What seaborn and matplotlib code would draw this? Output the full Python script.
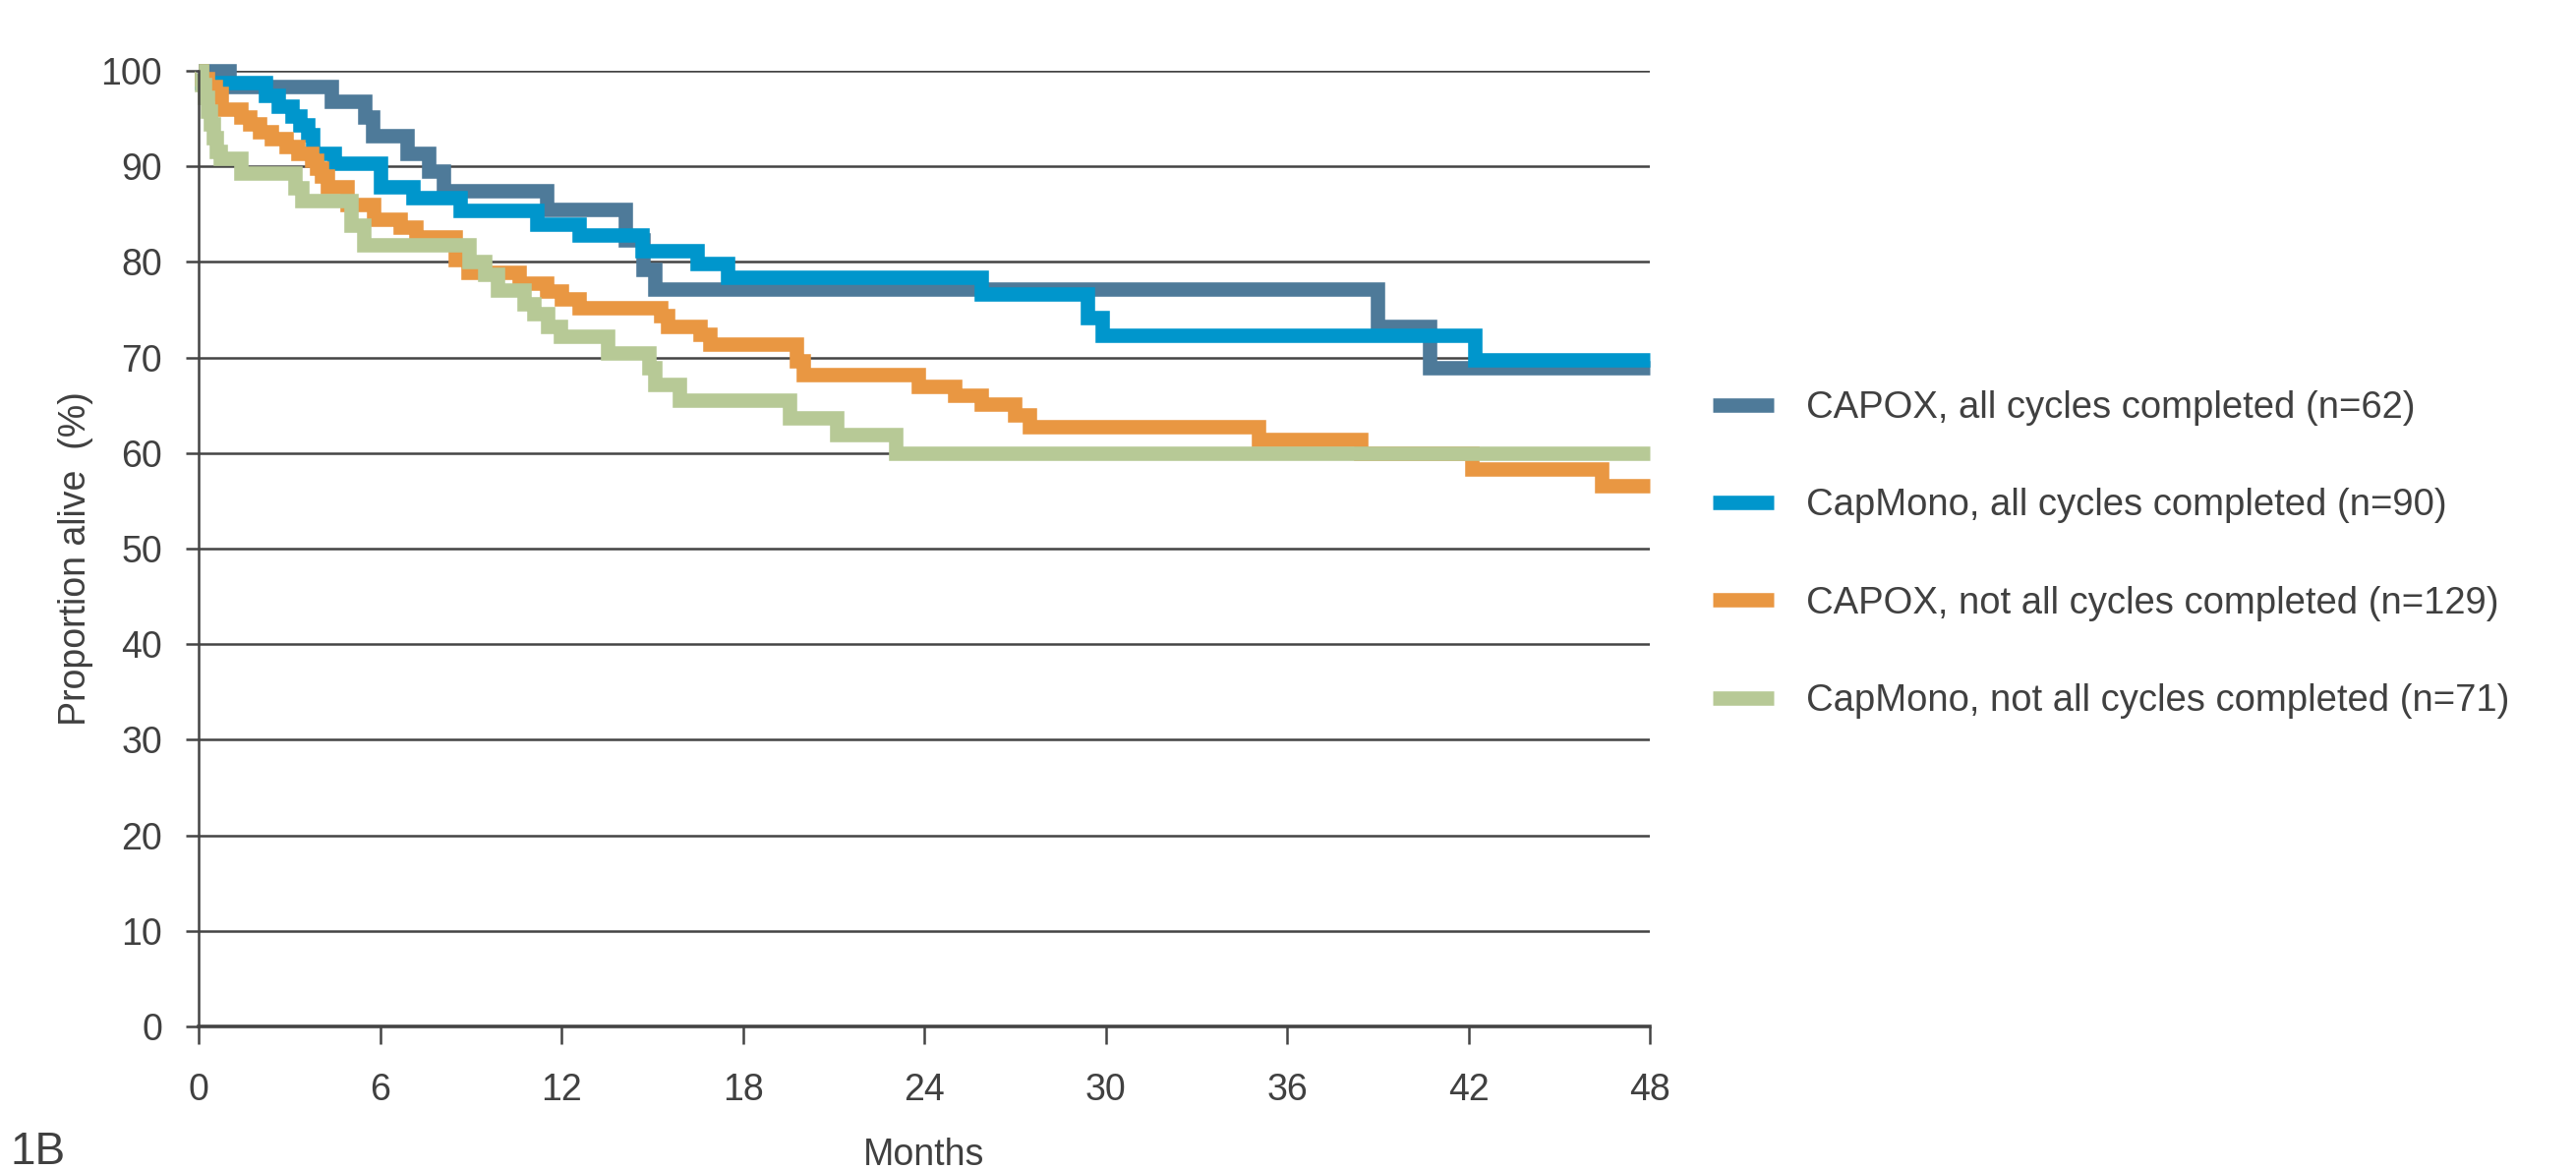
import pandas as pd
import seaborn as sns
import matplotlib.pyplot as plt

# Kaplan-Meier style survival curves
# each series: months where a step happens, and the proportion alive from that point on

capox_all_t = [0, 1.0, 4.4, 5.5, 5.75, 6.9, 7.6, 8.1, 11.5, 14.1, 14.7, 15.1, 39.0, 40.7, 48]
capox_all_v = [100, 98.4, 96.8, 95.2, 93.2, 91.4, 89.5, 87.4, 85.5, 82.3, 79.2, 77.2, 73.2, 68.9, 68.9]

capmono_all_t = [0, 0.1, 2.2, 2.64, 3.08, 3.35, 3.62, 3.78, 4.49, 6.0, 7.09, 8.66, 11.2, 12.6,
                 14.68, 16.5, 17.5, 25.9, 29.4, 29.9, 42.2, 48]
capmono_all_v = [100, 98.8, 97.4, 96.3, 95.3, 94.3, 93.3, 91.4, 90.3, 87.9, 86.7, 85.4, 84.0, 82.8,
                 81.2, 79.8, 78.4, 76.6, 74.2, 72.3, 69.8, 69.8]

capox_not_t = [0, 0.1, 0.3, 0.55, 0.75, 1.4, 1.7, 2.0, 2.4, 2.9, 3.3, 3.75, 3.9, 4.05, 4.27, 4.92,
               5.79, 6.66, 7.2, 8.5, 8.9, 10.6, 11.5, 12.0, 12.6, 15.27, 15.5, 16.6, 16.9, 19.77,
               20.0, 23.8, 25.0, 25.9, 27.0, 27.47, 35.06, 38.42, 42.1, 46.4, 48]
capox_not_v = [100, 99.2, 98.4, 97.6, 96.0, 95.2, 94.4, 93.6, 92.9, 92.1, 91.4, 90.6, 89.8, 89.0,
               87.9, 86.0, 84.5, 83.6, 82.6, 80.2, 78.9, 77.8, 77.0, 76.1, 75.2, 74.4, 73.3, 72.4,
               71.4, 69.7, 68.2, 67.0, 66.0, 65.1, 64.0, 62.8, 61.4, 60.0, 58.3, 56.6, 56.6]

capmono_not_t = [0, 0.1, 0.2, 0.3, 0.4, 0.5, 0.6, 0.7, 1.4, 3.19, 3.4, 5.03, 5.46, 8.93, 9.47, 9.9,
                 10.77, 11.1, 11.53, 11.97, 13.53, 14.9, 15.1, 15.9, 19.55, 21.1, 23.07, 48]
capmono_not_v = [100, 98.6, 97.2, 95.8, 94.4, 93.0, 91.6, 90.8, 89.3, 87.8, 86.4, 83.8, 81.8, 80.0,
                 78.7, 77.1, 75.6, 74.6, 73.2, 72.2, 70.5, 68.9, 67.2, 65.5, 63.7, 61.9, 60.0, 60.0]

groups = ['CAPOX, all cycles completed (n=62)',
          'CapMono, all cycles completed (n=90)',
          'CAPOX, not all cycles completed (n=129)',
          'CapMono, not all cycles completed (n=71)']
colors = ['#4E7A99', '#0096CC', '#E99742', '#B7C996']

frames = []
for g, t, v in zip(groups,
                   [capox_all_t, capmono_all_t, capox_not_t, capmono_not_t],
                   [capox_all_v, capmono_all_v, capox_not_v, capmono_not_v]):
    frames.append(pd.DataFrame({'Months': t, 'alive': v, 'group': g}))
df = pd.concat(frames, ignore_index=True)

sns.set_style('white')
plt.rcParams['font.family'] = ['Liberation Sans', 'DejaVu Sans']
text_col = '#404040'
grid_col = '#444444'

fig = plt.figure(figsize=(26.2, 11.9), dpi=100)
ax = fig.add_axes([0.0771, 0.1227, 0.5634, 0.8168])

sns.lineplot(data=df, x='Months', y='alive', hue='group', hue_order=groups,
             palette=colors, drawstyle='steps-post', linewidth=10.5,
             estimator=None, sort=False, legend=False, ax=ax)
for ln in ax.get_lines():
    ln.set_clip_on(False)
    ln.set_solid_capstyle('butt')
    ln.set_solid_joinstyle('miter')

ax.set_xlim(0, 48)
ax.set_ylim(0, 100)
ax.set_xticks(range(0, 49, 6))
ax.set_yticks(range(0, 101, 10))
for y in range(10, 101, 10):
    ax.axhline(y, color=grid_col, linewidth=1.8, zorder=0)

for s in ['top', 'right']:
    ax.spines[s].set_visible(False)
ax.spines['left'].set_color(grid_col)
ax.spines['left'].set_linewidth(1.8)
ax.spines['bottom'].set_color(grid_col)
ax.spines['bottom'].set_linewidth(2.6)

ax.tick_params(axis='y', length=9.5, width=1.8, color=grid_col, pad=17,
               labelsize=27, labelcolor=text_col, left=True)
ax.tick_params(axis='x', length=13, width=1.8, color=grid_col, pad=21,
               labelsize=27, labelcolor=text_col, bottom=True)

ax.set_xlabel('Months', fontsize=27, color=text_col)
ax.set_ylabel('Proportion alive  (%)', fontsize=27, color=text_col)
ax.xaxis.set_label_coords(0.5, -0.116)
ax.yaxis.set_label_coords(-0.0726, 0.49)

handles = ax.get_lines()[:4]
leg = fig.legend(handles, groups, loc='center left', bbox_to_anchor=(0.665, 0.526),
                 frameon=False, fontsize=27.5, handlelength=1.62, handletextpad=0.87,
                 labelspacing=1.66, borderpad=0, borderaxespad=0)
for t in leg.get_texts():
    t.set_color(text_col)
for h in leg.legend_handles:
    h.set_linewidth(10.5)
    h.set_solid_capstyle('butt')

fig.text(0.004, 0.034, '1B', fontsize=33, color=text_col, va='top', ha='left')

fig.savefig('out.png', dpi=100)
